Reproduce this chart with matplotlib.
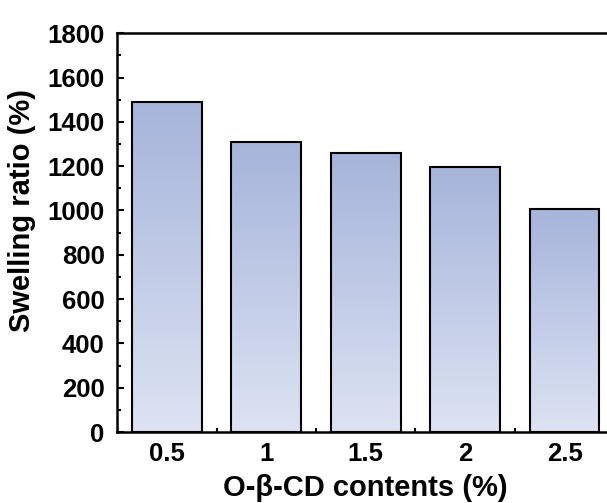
import numpy as np
import matplotlib
matplotlib.use("Agg")
import matplotlib.pyplot as plt
from matplotlib.colors import LinearSegmentedColormap
from matplotlib.ticker import MultipleLocator, FixedLocator

# data
contents = ["0.5", "1", "1.5", "2", "2.5"]
swelling = [1490, 1310, 1258, 1195, 1008]

plt.rcParams['font.family'] = ['Liberation Sans', 'DejaVu Sans']
plt.rcParams['font.weight'] = 'bold'

fig = plt.figure(figsize=(6.07, 5.03), dpi=100)
ax = fig.add_axes([0.193, 0.141, 0.819, 0.793])

x = np.arange(len(contents))
bars = ax.bar(x, swelling, width=0.7, facecolor='none', edgecolor='black',
              linewidth=1.5, zorder=3)

# vertical gradient inside each bar (dark at top, light at bottom)
cmap = LinearSegmentedColormap.from_list('grad', ['#dde3f3', '#a6b4db'])
grad = np.linspace(0, 1, 256).reshape(-1, 1)
for b in bars:
    x0, y0 = b.get_x(), b.get_y()
    im = ax.imshow(grad, cmap=cmap, aspect='auto', origin='lower',
                   extent=[x0, x0 + b.get_width(), y0, y0 + b.get_height()],
                   zorder=2)
    im.set_clip_path(b)

ax.set_xlim(-0.5, len(contents) - 0.5)
ax.set_ylim(0, 1800)
ax.set_xticks(x)
ax.set_xticklabels(contents)
ax.xaxis.set_minor_locator(FixedLocator(x[:-1] + 0.5))
ax.yaxis.set_major_locator(MultipleLocator(200))
ax.yaxis.set_minor_locator(MultipleLocator(100))

ax.tick_params(which='both', direction='in', width=1.5, labelsize=18.5,
               top=False, right=False)
ax.tick_params(which='major', length=5)
ax.tick_params(axis='x', which='major', pad=7)
ax.tick_params(axis='y', which='major', pad=9)
ax.tick_params(which='minor', length=3)
for s in ax.spines.values():
    s.set_linewidth(1.8)

ax.set_xlabel('O-β-CD contents (%)', fontsize=21, fontweight='bold', labelpad=6)
ax.set_ylabel('Swelling ratio (%)', fontsize=21, fontweight='bold')
ax.yaxis.set_label_coords(-0.163, 0.555)

fig.savefig('out.png', dpi=100)
